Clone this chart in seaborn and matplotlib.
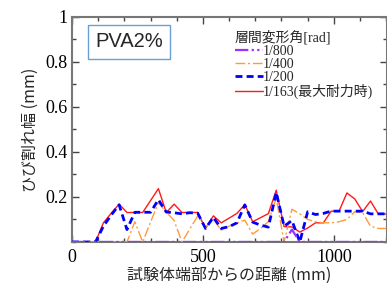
import numpy as np
import pandas as pd
import seaborn as sns
import matplotlib.pyplot as plt
from matplotlib.ticker import MultipleLocator

# distance from specimen end (mm), sampled every 30 mm
distance = np.arange(0, 1201, 30)

w_800 = [0, 0, 0, 0, 0, 0, 0, 0, 0, 0, 0, 0, 0, 0, 0, 0, 0, 0, 0, 0, 0,
         0, 0, 0, 0, 0, 0, 0, 0.055, 0, 0, 0, 0, 0, 0, 0, 0, 0, 0, 0, 0]
w_400 = [0, 0, 0, 0, 0, 0, 0, 0, 0.09, 0, 0.088, 0.175, 0.133, 0.095, 0, 0.058, 0.115,
         0.065, 0.1, 0.053, 0.07, 0.085, 0.097, 0.035, 0.06, 0.09, 0.195, 0, 0.145,
         0.125, 0.1, 0.09, 0.085, 0.085, 0.09, 0.1, 0.135, 0.13, 0.07, 0.06, 0.06]
w_200 = [0, 0, 0, 0, 0.07, 0.12, 0.165, 0.055, 0.132, 0.132, 0.132, 0.188, 0.133, 0.13,
         0.125, 0.13, 0.128, 0.06, 0.11, 0.06, 0.068, 0.085, 0.165, 0.088, 0.075, 0.066,
         0.22, 0.07, 0.095, 0.0, 0.134, 0.122, 0.127, 0.137, 0.137, 0.137, 0.137, 0.137,
         0.125, 0.125, 0.125]
w_163 = [0, 0, 0, 0, 0.085, 0.128, 0.168, 0.131, 0.131, 0.131, 0.184, 0.237, 0.131, 0.168,
         0.131, 0.131, 0.131, 0.06, 0.116, 0.085, 0.106, 0.127, 0.166, 0.09, 0.108, 0.126,
         0.23, 0.068, 0.067, 0.044, 0.062, 0.085, 0.085, 0.137, 0.137, 0.218, 0.191, 0.135,
         0.182, 0.124, 0.124]

labels = ['1/800', '1/400', '1/200', '1/163(最大耐力時)']
series = [w_800, w_400, w_200, w_163]
colors = ['#9b30ff', '#ff9a3c', '#0000ff', '#ff1a1a']
styles = [(0, (6, 1.5, 1, 1.5, 1, 1.5)), (0, (7, 2, 1.5, 2)), (0, (2.5, 1.5)), '-']
widths = [1.6, 1.0, 2.0, 1.0]
zorders = [5, 3, 4, 2]

serif = ['Liberation Serif', 'Noto Sans CJK JP']
gothic = ['Noto Sans CJK JP']

sns.set_style('ticks')
plt.rcParams['font.family'] = serif

fig = plt.figure(figsize=(3.87, 2.83), dpi=100)
ax = fig.add_axes([0.186, 0.145, 0.814, 0.795])

for lab, vals, c, ls, lw, z in zip(labels, series, colors, styles, widths, zorders):
    df = pd.DataFrame({'distance': distance, 'width': vals})
    sns.lineplot(data=df, x='distance', y='width', ax=ax, color=c, linestyle=ls,
                 linewidth=lw, label=lab, zorder=z)

ax.set_xlim(0, 1203)
ax.set_ylim(0, 1)
ax.set_xticks([0, 500, 1000])
ax.set_xticklabels(['0', '500', '1000'], family=serif)
ax.set_yticks([0.2, 0.4, 0.6, 0.8, 1.0])
ax.set_yticklabels(['0.2', '0.4', '0.6', '0.8', '1'], family=serif)
ax.xaxis.set_minor_locator(MultipleLocator(100))
ax.yaxis.set_minor_locator(MultipleLocator(0.1))

ax.tick_params(which='both', direction='in', top=True, right=True, colors='#444444',
               labelcolor='black', labelsize=13)
ax.tick_params(which='major', length=5, width=1)
ax.tick_params(which='minor', length=3, width=1)
ax.tick_params(axis='x', pad=5)
ax.tick_params(axis='y', pad=3)
for s in ax.spines.values():
    s.set_color('#777777')
    s.set_linewidth(1.5)

ax.set_xlabel('試験体端部からの距離 (mm)', family=gothic, fontsize=11.5, labelpad=1)
ax.set_ylabel('ひび割れ幅 (mm)', family=gothic, fontsize=11.5, labelpad=4.5)

ax.text(0.181, 0.889, 'PVA2%', transform=ax.transAxes, ha='center', va='center',
        family=['Liberation Sans'], fontsize=14.5,
        bbox=dict(boxstyle='square,pad=0.35', fc='white', ec='#6a9fd4', lw=1))

leg = ax.legend(title='層間変形角[rad]', loc='upper left', bbox_to_anchor=(0.517, 0.94),
                frameon=False, prop={'family': serif, 'size': 10},
                handlelength=2.0, handletextpad=0.0, labelspacing=0.0,
                borderpad=0, borderaxespad=0)
leg.get_title().set_fontfamily(serif)
leg.get_title().set_fontsize(10)
leg._legend_box.align = 'left'

fig.savefig('out.png', dpi=100)
